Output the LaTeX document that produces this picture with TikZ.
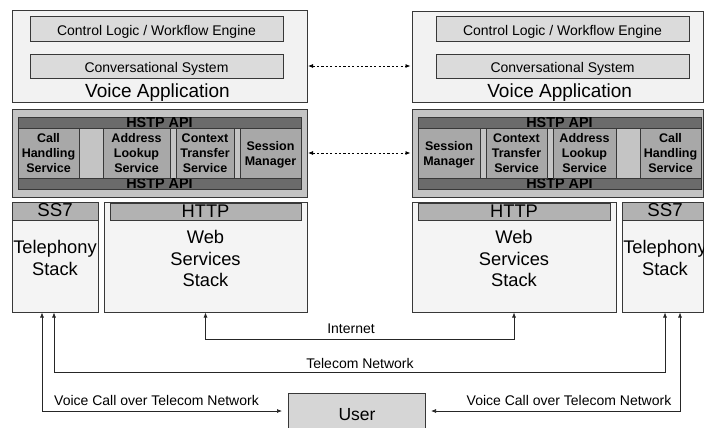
\documentclass[tikz,border=0pt]{standalone}
\usepackage{fontspec}
\setmainfont{Liberation Sans}
\usetikzlibrary{arrows.meta}

\definecolor{vafill}{gray}{0.95}
\definecolor{inboxfill}{gray}{0.86}
\definecolor{hstpfill}{gray}{0.77}
\definecolor{cellfill}{gray}{0.66}
\definecolor{barfill}{gray}{0.42}
\definecolor{stackfill}{gray}{0.955}
\definecolor{hdrfill}{gray}{0.70}
\definecolor{userfill}{gray}{0.84}
\definecolor{edge}{gray}{0.22}

\tikzset{
  box/.style={draw=edge, line width=0.8pt, inner sep=0pt, outer sep=0pt, anchor=north west},
  vabox/.style={box, fill=vafill},
  inbox/.style={box, fill=inboxfill},
  hstpbox/.style={box, fill=hstpfill},
  bar/.style={box, fill=barfill, font=\bfseries\fontsize{14.4}{16}\selectfont,
              text height=10.3pt, text depth=0pt},
  cell/.style={box, fill=cellfill, align=center, text depth=0pt,
               font=\bfseries\fontsize{12.5}{15}\selectfont},
  stackbox/.style={box, fill=stackfill},
  hdr/.style={box, fill=hdrfill},
  userbox/.style={box, fill=userfill},
  smalltxt/.style={inner sep=0pt, anchor=base, font=\fontsize{14}{16}\selectfont},
  bigtxt/.style={inner sep=0pt, anchor=base, font=\fontsize{19}{22}\selectfont},
  stacktxt/.style={inner sep=0pt, align=center, text depth=0pt,
                   font=\fontsize{18.3}{21.7}\selectfont},
  conn/.style={draw=black!85, line width=0.7pt,
               {Latex[length=5pt,width=4pt]}-{Latex[length=5pt,width=4pt]}},
  peer/.style={draw=black, line width=0.8pt, dash pattern=on 2.2pt off 2.2pt,
               {Latex[length=5pt,width=4pt]}-{Latex[length=5pt,width=4pt]},
               shorten <=1pt, shorten >=1.5pt},
}

\begin{document}
\begin{tikzpicture}[x=1pt, y=-1pt]
\useasboundingbox[fill=white] (0,0) rectangle (704,428);

% ---------- Voice application (left) ----------
\node[vabox, minimum width=295pt, minimum height=92pt] (vaL) at (12,10) {};
\node[inbox, minimum width=253pt, minimum height=25pt] (clL) at (30,16) {};
\node[inbox, minimum width=253pt, minimum height=24pt] (csL) at (30,54) {};
\node[smalltxt] (clLt) at (156.5,35.5) {Control Logic / Workflow Engine};
\node[smalltxt] (csLt) at (156.5,73) {Conversational System};
\node[bigtxt] (vaLt) at (157.5,97.7) {Voice Application};

% ---------- Voice application (right) ----------
\node[vabox, minimum width=291pt, minimum height=91pt] (vaR) at (412,11) {};
\node[inbox, minimum width=253pt, minimum height=25pt] (clR) at (436,16) {};
\node[inbox, minimum width=253pt, minimum height=24pt] (csR) at (436,54) {};
\node[smalltxt] (clRt) at (562.5,35.5) {Control Logic / Workflow Engine};
\node[smalltxt] (csRt) at (562.5,73) {Conversational System};
\node[bigtxt] (vaRt) at (559.7,97.7) {Voice Application};

% ---------- HSTP layer (left) ----------
\node[hstpbox, minimum width=295pt, minimum height=88pt] (hstpL) at (12,109) {};
\node[hstpbox, minimum width=283pt, minimum height=50pt] (midL) at (18,128) {};
\node[bar, minimum width=283pt, minimum height=11pt] (apiTL) at (18,117) {HSTP API};
\node[bar, minimum width=283pt, minimum height=11pt] (apiBL) at (18,178) {HSTP API};
\node[cell, minimum width=61pt, minimum height=50pt] (chL) at (18,128) {Call\\Handling\\Service};
\node[cell, minimum width=67pt, minimum height=50pt] (alL) at (103,128) {Address\\Lookup\\Service};
\node[cell, minimum width=58pt, minimum height=50pt] (ctL) at (176,128) {Context\\Transfer\\Service};
\node[cell, minimum width=61pt, minimum height=50pt] (smL) at (240,128) {Session\\Manager};

% ---------- HSTP layer (right) ----------
\node[hstpbox, minimum width=291pt, minimum height=88pt] (hstpR) at (412,109) {};
\node[hstpbox, minimum width=283pt, minimum height=50pt] (midR) at (418,128) {};
\node[bar, minimum width=283pt, minimum height=11pt] (apiTR) at (418,117) {HSTP API};
\node[bar, minimum width=283pt, minimum height=11pt] (apiBR) at (418,178) {HSTP API};
\node[cell, minimum width=62pt, minimum height=50pt] (smR) at (418,128) {Session\\Manager};
\node[cell, minimum width=61pt, minimum height=50pt] (ctR) at (486,128) {Context\\Transfer\\Service};
\node[cell, minimum width=63pt, minimum height=50pt] (alR) at (553,128) {Address\\Lookup\\Service};
\node[cell, minimum width=61pt, minimum height=50pt] (chR) at (640,128) {Call\\Handling\\Service};

% ---------- Protocol stacks ----------
\node[stackbox, minimum width=86pt, minimum height=110.5pt] (ss7L) at (12,202) {};
\node[hdr, minimum width=86pt, minimum height=18pt] (ss7Lh) at (12,202) {};
\node[stackbox, minimum width=203pt, minimum height=110.5pt] (webL) at (104,202) {};
\node[hdr, minimum width=191pt, minimum height=17pt] (webLh) at (110,203) {};

\node[stackbox, minimum width=204pt, minimum height=110.5pt] (webR) at (412,202) {};
\node[hdr, minimum width=192pt, minimum height=17pt] (webRh) at (418,203) {};
\node[stackbox, minimum width=81pt, minimum height=110.5pt] (ss7R) at (622,202) {};
\node[hdr, minimum width=81pt, minimum height=18pt] (ss7Rh) at (622,202) {};

\node[bigtxt, font=\fontsize{18.7}{22}\selectfont] (ss7Lt) at (55,216.7) {SS7};
\node[bigtxt, font=\fontsize{18.7}{22}\selectfont] (ss7Rt) at (665,216.7) {SS7};
\node[bigtxt, font=\fontsize{18.3}{22}\selectfont] (httpLt) at (205.5,217.5) {HTTP};
\node[bigtxt, font=\fontsize{18.3}{22}\selectfont] (httpRt) at (514,217.5) {HTTP};
\node[stacktxt] (telLt) at (55,258) {Telephony\\Stack};
\node[stacktxt] (telRt) at (665,258) {Telephony\\Stack};
\node[stacktxt] (wsLt) at (205.5,258.5) {Web\\Services\\Stack};
\node[stacktxt] (wsRt) at (514,258.5) {Web\\Services\\Stack};

% ---------- User ----------
\node[userbox, minimum width=137pt, minimum height=36pt] (user) at (288,393) {};
\node[bigtxt, font=\fontsize{17.5}{20}\selectfont] (usert) at (357,420) {User};

% ---------- Peer-to-peer links ----------
\draw[peer] ([yshift=-10pt]vaL.east) -- ([yshift=-10pt]vaL.east -| vaR.west);
\draw[peer] (hstpL.east) -- (hstpL.east -| hstpR.west);

% ---------- Network links ----------
\draw[conn] (webL.south) -- ++(0,26.5) -| (webR.south);
\draw[conn] ([xshift=-1pt]ss7L.south) -- ++(0,59.5) -| ([xshift=2.5pt]ss7R.south);
\draw[conn] ([xshift=-13pt]ss7L.south) |- ([xshift=-6pt]user.west);
\draw[conn] ([xshift=17.5pt]ss7R.south) |- ([xshift=6pt]user.east);

\node[smalltxt] (inet) at (351,333) {Internet};
\node[smalltxt] (tnet) at (360,368) {Telecom Network};
\node[smalltxt] (vcL) at (156.5,405) {Voice Call over Telecom Network};
\node[smalltxt] (vcR) at (569,405) {Voice Call over Telecom Network};
\end{tikzpicture}
\end{document}
